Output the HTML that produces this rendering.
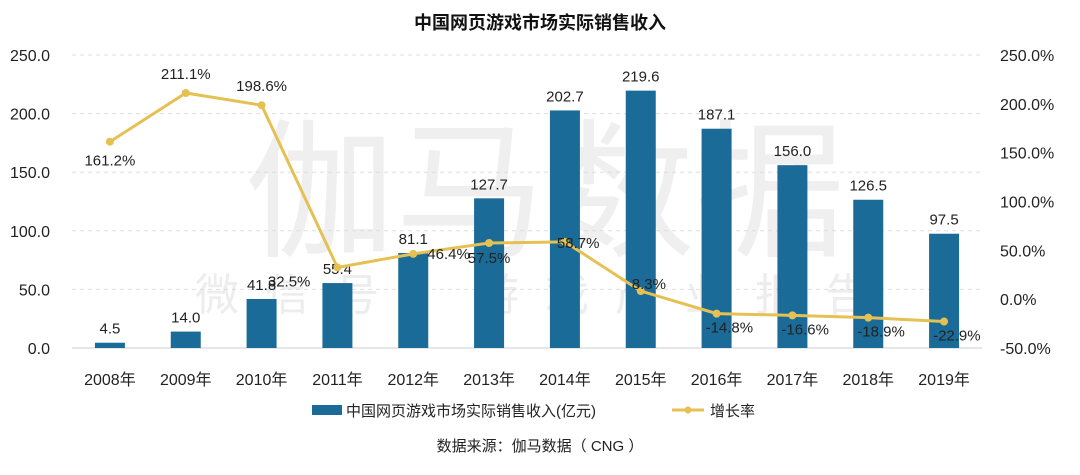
<!DOCTYPE html>
<html><head><meta charset="utf-8">
<style>
body{margin:0;background:#fff;}
svg text{font-family:"Liberation Sans","Noto Sans CJK SC",sans-serif;}
</style></head>
<body>
<svg id="chart" width="1080" height="470" viewBox="0 0 1080 470" xmlns="http://www.w3.org/2000/svg">
<text x="540" y="29" text-anchor="middle" font-size="18" font-weight="bold" fill="#111">中国网页游戏市场实际销售收入</text>
<g fill="#e6e6e6">
<text x="545" y="245" text-anchor="middle" font-size="150" opacity="0.6">伽马数据</text>
<text x="545" y="310" text-anchor="middle" font-size="44" letter-spacing="26" opacity="0.7">微信号：游戏产业报告</text>
</g>
<g id="grid"></g><g id="bars"></g><g id="line"></g><g id="axes"></g>
<g>
<rect x="312" y="405" width="30" height="10" fill="#1a6b98"/>
<text x="346" y="416" font-size="15" fill="#222">中国网页游戏市场实际销售收入(亿元)</text>
<line x1="672" y1="410" x2="704" y2="410" stroke="#e5c154" stroke-width="3"/>
<circle cx="688" cy="410" r="3.5" fill="#e5c154"/>
<text x="710" y="416" font-size="15" fill="#222">增长率</text>
</g>
<text x="540" y="451" text-anchor="middle" font-size="15" fill="#222">数据来源：伽马数据（ CNG ）</text>
</svg>
<script>
const categories=["2008年","2009年","2010年","2011年","2012年","2013年","2014年","2015年","2016年","2017年","2018年","2019年"];
const revenue=[4.5,14.0,41.8,55.4,81.1,127.7,202.7,219.6,187.1,156.0,126.5,97.5];
const growth=[161.2,211.1,198.6,32.5,46.4,57.5,58.7,8.3,-14.8,-16.6,-18.9,-22.9];
const leftTicks=[0,50,100,150,200,250];
const rightTicks=[-50,0,50,100,150,200,250];
const NS="http://www.w3.org/2000/svg";
const x0=72,x1=982,yTop=55,yBot=348;
const step=(x1-x0)/categories.length;
const xc=i=>x0+step*(i+0.5);
const yL=v=>yBot-(v/250)*(yBot-yTop);
const yR=v=>yBot-((v+50)/300)*(yBot-yTop);
function mk(tag,attrs,parent,txt){const e=document.createElementNS(NS,tag);for(const k in attrs)e.setAttribute(k,attrs[k]);if(txt!==undefined)e.textContent=txt;document.getElementById(parent).appendChild(e);return e;}
leftTicks.forEach(t=>{
 const l=mk('line',{x1:x0,x2:x1,y1:yL(t),y2:yL(t),stroke:t===0?'#ccc':'#ddd','stroke-dasharray':t===0?'':'4,4'},'grid');
 
 
 const tx=mk('text',{x:50,y:yL(t)+6,'text-anchor':'end','font-size':16,fill:'#222'},'axes',t.toFixed(1));
 
 
});
rightTicks.forEach(t=>{
 const tx=mk('text',{x:1000,y:yR(t)+6,'font-size':16,fill:'#222'},'axes',t.toFixed(1)+'%');
 
 
});
categories.forEach((c,i)=>{
 const tx=mk('text',{x:xc(i),y:385,'text-anchor':'middle','font-size':16,fill:'#222'},'axes',c);
 
 
 const b=mk('rect',{x:xc(i)-15,y:yL(revenue[i]),width:30,height:yBot-yL(revenue[i]),fill:'#1a6b98'},'bars');
 
 
 const bl=mk('text',{x:xc(i),y:yL(revenue[i])-9,'text-anchor':'middle','font-size':15,fill:'#222'},'bars',revenue[i].toFixed(1));
 
 
});
const pts=growth.map((g,i)=>xc(i)+','+yR(g)).join(' ');
const pl=mk('polyline',{points:pts,fill:'none',stroke:'#e5c154','stroke-width':3},'line');


growth.forEach((g,i)=>{
 const c=mk('circle',{cx:xc(i),cy:yR(g),r:4,fill:'#e5c154'},'line');
 
 
 let dx=0,dy=-14,anc='middle';
 if(i===0){dy=24;}
 if(i===3){dx=-27;dy=19;anc='end';}
 if(i===4){dx=14;dy=5;anc='start';}
 if(i===5){dx=0;dy=20;anc='middle';}
 if(i===6){dx=-8;dy=6;anc='start';}
 if(i===7){dx=-9;dy=-2;anc='start';}
 if(i>=8){dx=-11;dy=19;anc='start';}
 const t=mk('text',{x:xc(i)+dx,y:yR(g)+dy,'text-anchor':anc,'font-size':15,fill:'#222'},'line',g.toFixed(1)+'%');
 
 
});
</script>
</body></html>
